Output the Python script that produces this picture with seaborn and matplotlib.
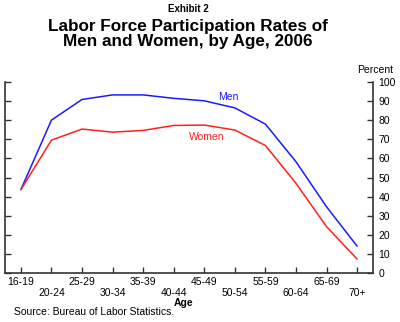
import matplotlib
matplotlib.use("Agg")
import matplotlib.pyplot as plt
import seaborn as sns
import pandas as pd

ages = ["16-19", "20-24", "25-29", "30-34", "35-39", "40-44", "45-49",
        "50-54", "55-59", "60-64", "65-69", "70+"]
men = [43.7, 80.1, 90.9, 93.3, 93.3, 91.5, 90.2, 86.5, 78.0, 58.3, 34.7, 14.1]
women = [43.7, 69.6, 75.4, 73.8, 74.7, 77.3, 77.5, 74.9, 66.8, 47.0, 24.3, 7.3]
yticks = [0, 10, 20, 30, 40, 50, 60, 70, 80, 90, 100]

sns.set_theme(style="white")
plt.rcParams['font.family'] = ['Liberation Sans', 'DejaVu Sans']
plt.rcParams['text.color'] = 'black'
plt.rcParams['xtick.labelcolor'] = 'black'
plt.rcParams['ytick.labelcolor'] = 'black'

df = pd.DataFrame({
    "pos": list(range(len(ages))) * 2,
    "rate": men + women,
    "sex": ["Men"] * len(ages) + ["Women"] * len(ages),
})

fig = plt.figure(figsize=(4.0, 3.22), dpi=100)
ax = fig.add_axes([0.0125, 0.152, 0.92, 0.593])
sns.lineplot(data=df, x="pos", y="rate", hue="sex",
             palette={"Men": "#1a1aff", "Women": "#ff2020"},
             linewidth=1.1, legend=False, ax=ax)

ax.set_xlim(-0.52, 11.52)
ax.set_ylim(0, 100)
for s in ["left", "right", "bottom"]:
    ax.spines[s].set_visible(True)
    ax.spines[s].set_color("#333333")
    ax.spines[s].set_linewidth(1.2)
ax.spines["top"].set_visible(False)

ax.set_xticks(range(len(ages)))
ax.set_xticklabels([a if i % 2 == 0 else "\n" + a for i, a in enumerate(ages)],
                   fontsize=7.5, linespacing=1.15)
ax.set_yticks(yticks)
ax.set_yticklabels([str(v) for v in yticks], fontsize=7.5)
ax.yaxis.tick_right()
ax.tick_params(axis="y", which="both", direction="in", length=4.5, width=1,
               color="#333333", left=True, right=True, labelleft=False,
               labelright=True, pad=4, labelcolor="black")
ax.tick_params(axis="x", direction="in", length=4.5, width=1, color="#333333",
               bottom=True, pad=3, labelcolor="black")
ax.set_xlabel("")
ax.set_ylabel("")
ax.grid(False)

ax.text(6.8, 92.3, "Men", color="#1a1aff", fontsize=7.5, ha="center", va="center")
ax.text(6.07, 71.5, "Women", color="#ff2020", fontsize=7.5, ha="center", va="center")

fig.text(0.47, 0.972, "Exhibit 2", fontsize=7, fontweight="bold",
         ha="center", va="center")
fig.text(0.47, 0.895, "Labor Force Participation Rates of\nMen and Women, by Age, 2006",
         fontsize=12.3, fontweight="bold", ha="center", va="center", linespacing=0.96)
fig.text(0.9375, 0.782, "Percent", fontsize=7.5, ha="center", va="center")
fig.text(0.46, 0.058, "Age", fontsize=7.5, fontweight="bold", ha="center", va="center")
fig.text(0.035, 0.03, "Source: Bureau of Labor Statistics.", fontsize=7.5,
         ha="left", va="center")

fig.savefig("out.png", dpi=100)
